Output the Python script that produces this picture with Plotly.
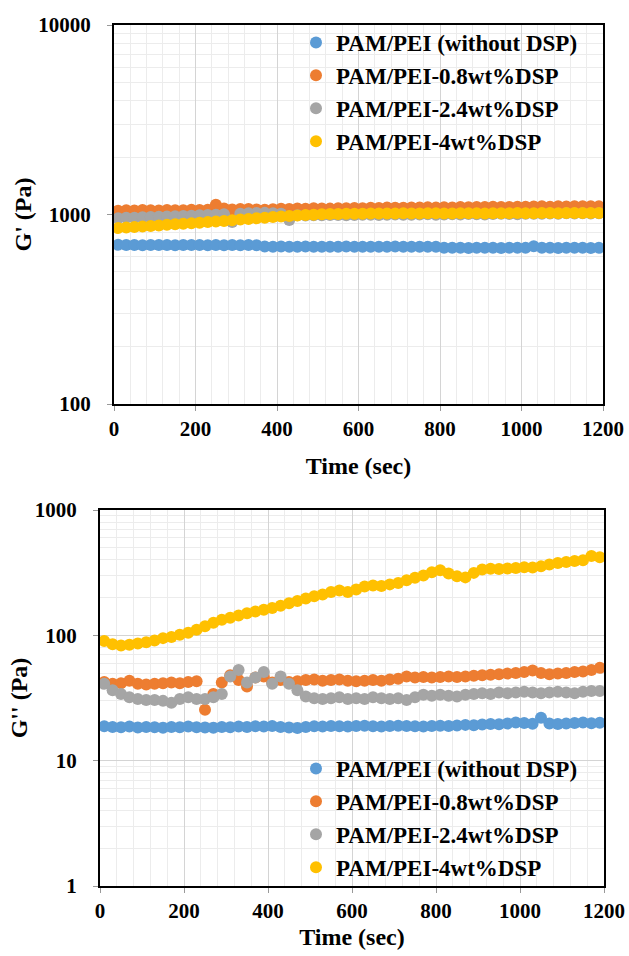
import plotly.graph_objects as go

# ---------------- data ----------------
time_sec = [10, 30, 50, 70, 90, 110, 130, 150, 170, 190,
            210, 230, 250, 270, 290, 310, 330, 350, 370, 390,
            410, 430, 450, 470, 490, 510, 530, 550, 570, 590,
            610, 630, 650, 670, 690, 710, 730, 750, 770, 790,
            810, 830, 850, 870, 890, 910, 930, 950, 970, 990,
            1010, 1030, 1050, 1070, 1090, 1110, 1130, 1150, 1170, 1190]

series_names = ["PAM/PEI (without DSP)", "PAM/PEI-0.8wt%DSP",
                "PAM/PEI-2.4wt%DSP", "PAM/PEI-4wt%DSP"]

# G' (Pa)
g1_blue = [692, 690, 691, 689, 690, 691, 690, 689, 690, 691,
           690, 689, 690, 688, 690, 689, 690, 689, 678, 676,
           677, 676, 675, 677, 676, 676, 675, 676, 677, 676,
           675, 676, 676, 675, 677, 676, 675, 676, 675, 676,
           668, 667, 668, 666, 667, 668, 667, 666, 667, 668,
           667, 680, 668, 667, 666, 667, 668, 667, 666, 667]
g1_orange = [1048, 1052, 1050, 1055, 1053, 1050, 1056, 1054, 1052, 1058,
             1055, 1060, 1125, 1075, 1062, 1068, 1070, 1064, 1060, 1066,
             1072, 1070, 1075, 1073, 1078, 1076, 1074, 1080, 1078, 1082,
             1080, 1085, 1083, 1088, 1086, 1084, 1090, 1088, 1092, 1090,
             1093, 1090, 1095, 1092, 1096, 1094, 1098, 1095, 1097, 1100,
             1098, 1102, 1104, 1100, 1105, 1103, 1106, 1104, 1107, 1105]
g1_gray = [955, 960, 962, 966, 970, 972, 975, 978, 982, 985,
           990, 994, 998, 1002, 912, 1010, 1015, 1018, 1020, 1015,
           1010, 935, 990, 988, 992, 990, 995, 993, 990, 995,
           998, 996, 994, 998, 1000, 998, 996, 1000, 1002, 998,
           1000, 1003, 1001, 1005, 1003, 1000, 1005, 1008, 1006, 1004,
           1008, 1010, 1008, 1012, 1010, 1014, 1012, 1015, 1013, 1016]
g1_yellow = [848, 855, 860, 865, 870, 876, 882, 888, 894, 900,
             905, 912, 918, 925, 932, 940, 948, 955, 962, 970,
             976, 982, 988, 993, 998, 1002, 1005, 1007, 1008, 1010,
             1010, 1012, 1011, 1013, 1012, 1014, 1013, 1012, 1014, 1015,
             1013, 1012, 1014, 1016, 1015, 1013, 1014, 1016, 1015, 1017,
             1016, 1015, 1017, 1018, 1016, 1017, 1019, 1018, 1017, 1018]

# G'' (Pa)
g2_blue = [18.8, 18.6, 18.5, 18.7, 18.4, 18.6, 18.5, 18.3, 18.6, 18.5,
           18.7, 18.5, 18.4, 18.3, 18.6, 18.5, 18.7, 18.6, 18.8, 18.7,
           18.9, 18.6, 18.4, 18.2, 18.6, 18.8, 18.7, 18.9, 18.8, 18.7,
           18.9, 19.0, 18.8, 18.7, 18.9, 19.0, 18.9, 18.8, 18.7, 18.9,
           19.0, 18.9, 19.1, 19.3, 19.2, 19.4, 19.6, 19.5, 19.8, 20.2,
           20.0, 19.7, 22.0, 19.8, 19.6, 19.8, 20.0, 20.2, 19.9, 20.1]
g2_orange = [42.5, 41, 41.5, 43.5, 41, 40.5, 41, 41.5, 42, 41.5,
             42.5, 43, 25.5, 34, 42, 48, 44, 39, 46, 47,
             42, 44, 42.5, 43, 44, 44.5, 43.5, 44, 44.5, 43.5,
             43, 43.5, 44, 43.5, 44.5, 45, 47, 46, 46.5, 46,
             46.5, 47, 46.5, 47, 47.5, 48, 48.5, 49, 49.5, 50,
             51, 52.5, 50, 49, 49.5, 50, 51, 51.5, 53, 55]
g2_gray = [41, 36.5, 34, 32, 31, 30.5, 30.5, 30, 29, 31,
           32, 31, 31, 32, 34, 47, 53, 42, 46, 51,
           41, 47, 41, 36.5, 32.5, 31.5, 31, 31.5, 32, 31,
           31.5, 31, 32, 31.5, 31, 31.5, 30.5, 32, 33.5, 33,
           33.5, 33, 32.5, 33.5, 34, 34.5, 34, 35, 34.5, 35,
           35.5, 35, 34.5, 35, 35.5, 35, 34.5, 35.5, 36, 36]
g2_yellow = [90, 85, 83, 84, 86, 88, 91, 95, 97, 101,
             105, 111, 118, 126, 133, 138, 144, 150, 155, 160,
             165, 172, 180, 188, 197, 205, 212, 222, 228, 222,
             232, 245, 250, 248, 255, 262, 275, 288, 300, 318,
             330, 312, 296, 290, 315, 335, 340, 338, 342, 345,
             350, 348, 355, 368, 378, 385, 392, 398, 430, 420]

top_yticks = [100, 1000, 10000]
top_yticklabels = ["100", "1000", "10000"]
bot_yticks = [1, 10, 100, 1000]
bot_yticklabels = ["1", "10", "100", "1000"]
x_ticks = [0, 200, 400, 600, 800, 1000, 1200]
x_ticklabels = ["0", "200", "400", "600", "800", "1000", "1200"]

colors = ["#5B9BD5", "#ED7D31", "#A5A5A5", "#FFC000"]

# ---------------- figure ----------------
W, H = 629, 956
FONT = "Liberation Serif"

fig = go.Figure()
top_data = [g1_blue, g1_orange, g1_gray, g1_yellow]
bot_data = [g2_blue, g2_orange, g2_gray, g2_yellow]
for i in range(4):
    fig.add_trace(go.Scatter(
        x=time_sec, y=top_data[i], mode="markers", name=series_names[i],
        marker=dict(color=colors[i], size=12, line=dict(width=0)),
        xaxis="x", yaxis="y", legend="legend", legendgroup="t%d" % i))
for i in range(4):
    fig.add_trace(go.Scatter(
        x=time_sec, y=bot_data[i], mode="markers", name=series_names[i],
        marker=dict(color=colors[i], size=12, line=dict(width=0)),
        xaxis="x2", yaxis="y2", legend="legend2", legendgroup="b%d" % i))

def px_x(p):
    return p / W

def px_y(p):
    return 1 - p / H

tickfont = dict(family=FONT, size=21, color="#000000", weight="bold")
titlefont = dict(family=FONT, size=24, color="#000000", weight="bold")
major_grid = "#d4d4d4"
minor_grid = "#ececec"

common_x = dict(
    range=[0, 1200], tickvals=x_ticks, ticktext=x_ticklabels,
    showgrid=True, gridcolor=major_grid, gridwidth=1,
    minor=dict(dtick=40, tick0=0, showgrid=True, gridcolor=minor_grid, gridwidth=1, ticks=""),
    showline=True, linecolor="#000000", linewidth=2, mirror=True,
    ticks="outside", ticklen=5, tickcolor="#999999",
    tickfont=tickfont, zeroline=False, fixedrange=True, automargin=False,
)
common_y = dict(
    type="log",
    showgrid=True, gridcolor=major_grid, gridwidth=1,
    minor=dict(dtick="D1", showgrid=True, gridcolor=minor_grid, gridwidth=1, ticks=""),
    showline=True, linecolor="#000000", linewidth=2, mirror=True,
    ticks="outside", ticklen=5, tickcolor="#999999",
    tickfont=tickfont, zeroline=False, fixedrange=True, automargin=False,
    ticklabelstandoff=12,
)

legend_font = dict(family=FONT, size=23, color="#000000", weight="bold")

fig.update_layout(
    width=W, height=H,
    margin=dict(l=0, r=0, t=0, b=0, autoexpand=False),
    paper_bgcolor="#ffffff", plot_bgcolor="#ffffff",
    font=dict(family=FONT, color="#000000"),
    xaxis=dict(common_x, domain=[px_x(114), px_x(603)], anchor="y",
               title=dict(text="Time (sec)", font=titlefont, standoff=17)),
    yaxis=dict(common_y, domain=[px_y(404), px_y(25)], anchor="x",
               range=[2, 4], tickvals=top_yticks, ticktext=top_yticklabels,
               title=dict(text="G' (Pa)", font=titlefont, standoff=0)),
    xaxis2=dict(common_x, domain=[px_x(100), px_x(604)], anchor="y2",
                title=dict(text="Time (sec)", font=titlefont, standoff=6)),
    yaxis2=dict(common_y, domain=[px_y(886), px_y(510)], anchor="x2",
                range=[0, 3], tickvals=bot_yticks, ticktext=bot_yticklabels,
                title=dict(text="G'' (Pa)", font=titlefont, standoff=0)),
    legend=dict(
        x=px_x(296), y=px_y(21), xanchor="left", yanchor="top",
        bgcolor="rgba(0,0,0,0)", borderwidth=0, font=legend_font,
        traceorder="grouped", tracegroupgap=0, itemwidth=30,
    ),
    legend2=dict(
        x=px_x(296), y=px_y(747), xanchor="left", yanchor="top",
        bgcolor="rgba(0,0,0,0)", borderwidth=0, font=legend_font,
        traceorder="grouped", tracegroupgap=0, itemwidth=30,
    ),
    showlegend=True,
)

fig.write_html("out.html")
